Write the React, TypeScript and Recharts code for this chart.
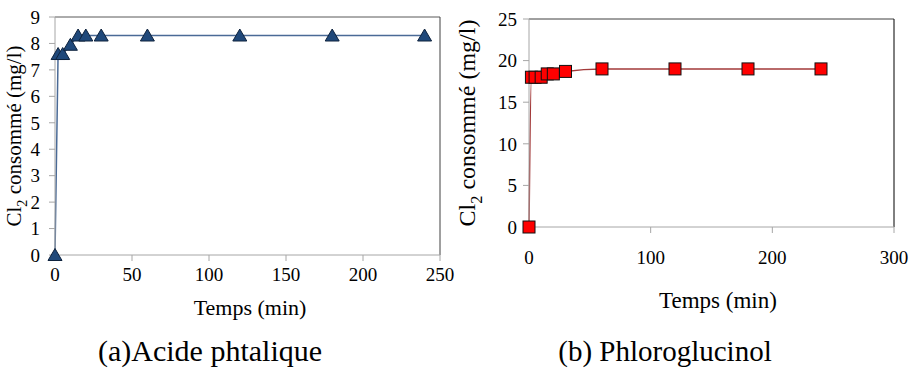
import React from "react";
import { LineChart, Line, XAxis, YAxis, ReferenceLine, Label } from "recharts";

const timesA = [0, 2, 5, 10, 15, 20, 30, 60, 120, 180, 240];
const chloreA = [0, 7.6, 7.6, 7.95, 8.3, 8.3, 8.3, 8.3, 8.3, 8.3, 8.3];
const timesB = [0, 2, 5, 10, 15, 20, 30, 60, 120, 180, 240];
const chloreB = [0, 18, 18, 18, 18.4, 18.4, 18.7, 19, 19, 19, 19];

const ticksXA = [0, 50, 100, 150, 200, 250];
const ticksYA = [0, 1, 2, 3, 4, 5, 6, 7, 8, 9];
const ticksXB = [0, 100, 200, 300];
const ticksYB = [0, 5, 10, 15, 20, 25];

const xTitle = "Temps (min)";
const yTitleMain = "Cl";
const yTitleSub = "2";
const yTitleRest = " consommé (mg/l)";
const captionA = "(a)Acide phtalique";
const captionB = "(b) Phloroglucinol";

const dataA = timesA.map((t, i) => ({ t, v: chloreA[i] }));
const dataB = timesB.map((t, i) => ({ t, v: chloreB[i] }));

const FONT = '"Liberation Serif", "Times New Roman", Tinos, Times, FreeSerif';
const CSS = `.sf, .sf text, .sf tspan, .sf div, .recharts-wrapper, .recharts-wrapper text, .recharts-text { font-family: "Liberation Serif", "Times New Roman", Tinos, Times, FreeSerif !important; }`;

const Triangle = (props: any) => {
  const { cx, cy } = props;
  if (cx == null || cy == null) return null;
  const w = 7, h = 11;
  const pts = `${cx - w},${cy + h / 2} ${cx + w},${cy + h / 2} ${cx},${cy - h / 2 - 1}`;
  return <polygon points={pts} fill="#1F487A" stroke="#0E223D" strokeWidth={1} />;
};

const Square = (props: any) => {
  const { cx, cy } = props;
  if (cx == null || cy == null) return null;
  const s = 12;
  return <rect x={cx - s / 2} y={cy - s / 2} width={s} height={s} fill="#FF0000" stroke="#111" strokeWidth={1} />;
};

const makeYTitle = (x: number, size: number) => (props: any) => {
  const vb = props.viewBox || {};
  const cy = (vb.y ?? 0) + (vb.height ?? 0) / 2;
  return (
    <text
      transform={`translate(${x},${cy}) rotate(-90)`}
      textAnchor="middle"
      fontFamily={FONT}
      fontSize={size}
      fill="#000"
    >
      {yTitleMain}
      <tspan dy={size * 0.3} fontSize={size * 0.68}>{yTitleSub}</tspan>
      <tspan dy={-size * 0.3}>{yTitleRest}</tspan>
    </text>
  );
};

const tickStyle = (size: number) => ({ fill: "#000", fontSize: size, fontFamily: FONT });

export default function App() {
  return (
    <div className="sf" style={{ position: "absolute", left: 0, top: 0, width: 909, height: 368, background: "#fff", fontFamily: FONT }}>
      <style>{CSS}</style>
      <div style={{ position: "absolute", left: 0, top: 0 }}>
        <LineChart width={460} height={300} data={dataA} margin={{ top: 17, right: 20, bottom: 0, left: 0 }}>
          <XAxis
            dataKey="t"
            type="number"
            domain={[0, 250]}
            ticks={ticksXA}
            height={45}
            stroke="#A6A6A6"
            tickSize={6}
            tickMargin={7}
            tick={tickStyle(19)}
          />
          <YAxis
            type="number"
            domain={[0, 9]}
            ticks={ticksYA}
            width={55}
            stroke="#A6A6A6"
            tickSize={6}
            tickMargin={9}
            interval={0}
            tick={tickStyle(19)}
          >
            <Label content={makeYTitle(21, 21)} />
          </YAxis>
          <ReferenceLine y={9} stroke="#595959" strokeWidth={1} />
          <ReferenceLine x={250} stroke="#404040" strokeWidth={1} />
          <Line
            dataKey="v"
            type="linear"
            stroke="#4A6A96"
            strokeWidth={1.5}
            dot={(p: any) => <Triangle key={`a${p.index}`} {...p} />}
            isAnimationActive={false}
          />
        </LineChart>
      </div>
      <div style={{ position: "absolute", left: 455, top: 0 }}>
        <LineChart width={454} height={300} data={dataB} margin={{ top: 19, right: 15, bottom: 0, left: 0 }}>
          <XAxis
            dataKey="t"
            type="number"
            domain={[0, 300]}
            ticks={ticksXB}
            height={73}
            stroke="#A6A6A6"
            tickSize={6}
            tickMargin={18}
            tick={tickStyle(19)}
          />
          <YAxis
            type="number"
            domain={[0, 25]}
            ticks={ticksYB}
            width={74}
            stroke="#A6A6A6"
            tickSize={6}
            tickMargin={6}
            tick={tickStyle(19)}
          >
            <Label content={makeYTitle(20, 24)} />
          </YAxis>
          <ReferenceLine y={25} stroke="#404040" strokeWidth={1} />
          <ReferenceLine x={300} stroke="#000" strokeWidth={1} />
          <Line
            dataKey="v"
            type="monotone"
            stroke="#A33A3A"
            strokeWidth={1.5}
            dot={(p: any) => <Square key={`b${p.index}`} {...p} />}
            isAnimationActive={false}
          />
        </LineChart>
      </div>
      <div style={{ position: "absolute", left: 250, top: 308, transform: "translate(-50%,-50%)", fontSize: 22, whiteSpace: "nowrap", color: "#000" }}>
        {xTitle}
      </div>
      <div style={{ position: "absolute", left: 718, top: 301, transform: "translate(-50%,-50%)", fontSize: 23, whiteSpace: "nowrap", color: "#000" }}>
        {xTitle}
      </div>
      <div style={{ position: "absolute", left: 210, top: 351, transform: "translate(-50%,-50%)", fontSize: 30, whiteSpace: "nowrap", color: "#000" }}>
        {captionA}
      </div>
      <div style={{ position: "absolute", left: 665, top: 351, transform: "translate(-50%,-50%)", fontSize: 29, whiteSpace: "nowrap", color: "#000" }}>
        {captionB}
      </div>
    </div>
  );
}
